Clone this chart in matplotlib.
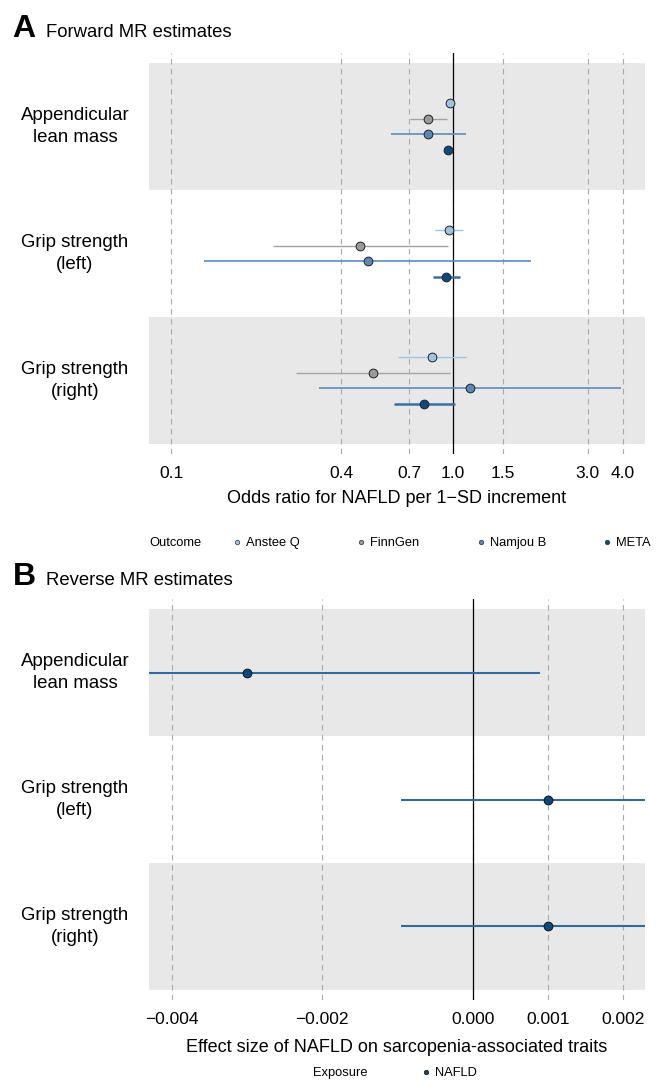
import matplotlib
matplotlib.use('Agg')
import matplotlib.pyplot as plt
from matplotlib.lines import Line2D

plt.rcParams['font.family'] = ['Liberation Sans', 'DejaVu Sans']

# ---------------- data ----------------
traits = ["Appendicular\nlean mass", "Grip strength\n(left)", "Grip strength\n(right)"]
outcomes = ["Anstee Q", "FinnGen", "Namjou B", "META"]

# Forward MR: odds ratios (per trait) and 95% CI
anstee_or = [0.978, 0.966, 0.842]
anstee_lo = [0.962, 0.863, 0.638]
anstee_hi = [0.996, 1.088, 1.112]
finngen_or = [0.817, 0.469, 0.519]
finngen_lo = [0.704, 0.230, 0.278]
finngen_hi = [0.950, 0.962, 0.973]
namjou_or = [0.817, 0.497, 1.149]
namjou_lo = [0.601, 0.131, 0.335]
namjou_hi = [1.109, 1.886, 3.940]
meta_or = [0.962, 0.944, 0.791]
meta_lo = [0.945, 0.845, 0.618]
meta_hi = [0.980, 1.061, 1.014]

# Reverse MR: effect size of NAFLD on traits
rev_beta = [-0.0030, 0.0010, 0.0010]
rev_lo = [-0.0069, -0.00095, -0.00095]
rev_hi = [0.0009, 0.00295, 0.00295]

fwd_ticks = [0.1, 0.4, 0.7, 1.0, 1.5, 3.0, 4.0]
fwd_ticklabels = ["0.1", "0.4", "0.7", "1.0", "1.5", "3.0", "4.0"]
rev_ticks = [-0.004, -0.002, 0.000, 0.001, 0.002]
rev_ticklabels = ["\u22120.004", "\u22120.002", "0.000", "0.001", "0.002"]

# ---------------- styles ----------------
point_fill = ['#9DC3E6', '#9A9A9A', '#5B88B8', '#0B4A7D']
ci_color = ['#9DC3E6', '#A3A3A3', '#5B8CC0', '#3A6EA5']
ci_lw = [1.0, 1.0, 1.2, 1.8]
dodge = [-0.1875, -0.0625, 0.0625, 0.1875]
band_color = '#E8E8E8'
grid_color = '#ABABAB'

W, H = 659, 1081
fig = plt.figure(figsize=(W / 100, H / 100), dpi=100)


def px_axes(x0, x1, y0, y1):
    return fig.add_axes([x0 / W, 1 - y1 / H, (x1 - x0) / W, (y1 - y0) / H])


def style_axes(ax, ticks, ticklabels):
    ax.set_ylim(3.5 + 0.079, 0.5 - 0.079)
    for i in range(len(traits)):
        if i % 2 == 0:
            ax.axhspan(i + 0.5, i + 1.5, color=band_color, zorder=0, lw=0)
    for t in ticks:
        ax.axvline(t, color=grid_color, lw=0.8, ls=(0, (5, 4)), zorder=1)
    ax.set_xticks(ticks)
    ax.set_xticklabels(ticklabels, fontsize=12.5)
    ax.minorticks_off()
    ax.set_yticks(range(1, len(traits) + 1))
    ax.set_yticklabels(traits, fontsize=13.4)
    for lab in ax.get_yticklabels():
        lab.set_ha('center')
        lab.set_va('center')
        lab.set_linespacing(1.4)
    ax.tick_params(axis='y', length=0, pad=(148.5 - 75) * 0.72)
    ax.tick_params(axis='x', length=0, pad=9, colors='black')
    for s in ax.spines.values():
        s.set_visible(False)
    ax.set_facecolor('none')


# ---------------- panel A ----------------
axA = px_axes(148.5, 644.5, 53, 454)
axA.set_xscale('log')
axA.set_xlim(10 ** (-1 - (171.3 - 148.5) / 282), 10 ** ((644.5 - 453) / 282))
style_axes(axA, fwd_ticks, fwd_ticklabels)
axA.axvline(1.0, color='black', lw=0.9, zorder=2)

series = [(anstee_or, anstee_lo, anstee_hi), (finngen_or, finngen_lo, finngen_hi),
          (namjou_or, namjou_lo, namjou_hi), (meta_or, meta_lo, meta_hi)]
for k, (est, lo, hi) in enumerate(series):
    ys = [i + 1 + dodge[k] for i in range(len(traits))]
    axA.hlines(ys, lo, hi, color=ci_color[k], lw=ci_lw[k], zorder=3)
    axA.plot(est, ys, 'o', ms=6.3, mfc=point_fill[k], mec='#222222', mew=0.7, zorder=4)
axA.set_xlabel("Odds ratio for NAFLD per 1\u2212SD increment", fontsize=13, labelpad=6)

fig.text(12 / W, 1 - 37.3 / H, "A", fontsize=23, fontweight='bold', va='baseline')
fig.text(46.5 / W, 1 - 37.3 / H, "Forward MR estimates", fontsize=13.3, va='baseline')

# legend A
fig.text(149 / W, 1 - 543 / H, "Outcome", fontsize=9.3, va='center')
handles = [Line2D([], [], ls='', marker='o', ms=3.2, mfc=point_fill[k], mec='#333333', mew=0.5)
           for k in range(len(outcomes))]
fs_px = 9.3 * 100 / 72
fig.legend(handles, outcomes, loc='center left',
           bbox_to_anchor=((237 - 0.4 * fs_px) / W, 1 - 543 / H),
           ncol=4, frameon=False, fontsize=9.3, handlelength=0.8, handletextpad=0.3,
           columnspacing=4.35, borderpad=0, borderaxespad=0)

# ---------------- panel B ----------------
axB = px_axes(148.5, 644.5, 599, 1000)
axB.set_xlim((148.5 - 472.7) / 75300, (644.5 - 472.7) / 75300)
style_axes(axB, rev_ticks, rev_ticklabels)
axB.axvline(0.0, color='black', lw=0.9, zorder=2)
ysB = list(range(1, len(traits) + 1))
axB.hlines(ysB, rev_lo, rev_hi, color='#3468A0', lw=1.5, zorder=3)
axB.plot(rev_beta, ysB, 'o', ms=6.3, mfc='#0B4A7D', mec='#111111', mew=0.7, zorder=4)
axB.set_xlabel("Effect size of NAFLD on sarcopenia-associated traits", fontsize=13, labelpad=8)

fig.text(13 / W, 1 - 585 / H, "B", fontsize=23, fontweight='bold', va='baseline')
fig.text(46.5 / W, 1 - 585 / H, "Reverse MR estimates", fontsize=13.3, va='baseline')

fig.text(313 / W, 1 - 1073 / H, "Exposure", fontsize=9.3, va='center')
hB = [Line2D([], [], ls='', marker='o', ms=3.2, mfc='#0B4A7D', mec='#111111', mew=0.5)]
fig.legend(hB, ["NAFLD"], loc='center left',
           bbox_to_anchor=((426 - 0.4 * fs_px) / W, 1 - 1073 / H),
           ncol=1, frameon=False, fontsize=9.3, handlelength=0.8, handletextpad=0.3,
           borderpad=0, borderaxespad=0)

fig.savefig('out.png', dpi=100)
